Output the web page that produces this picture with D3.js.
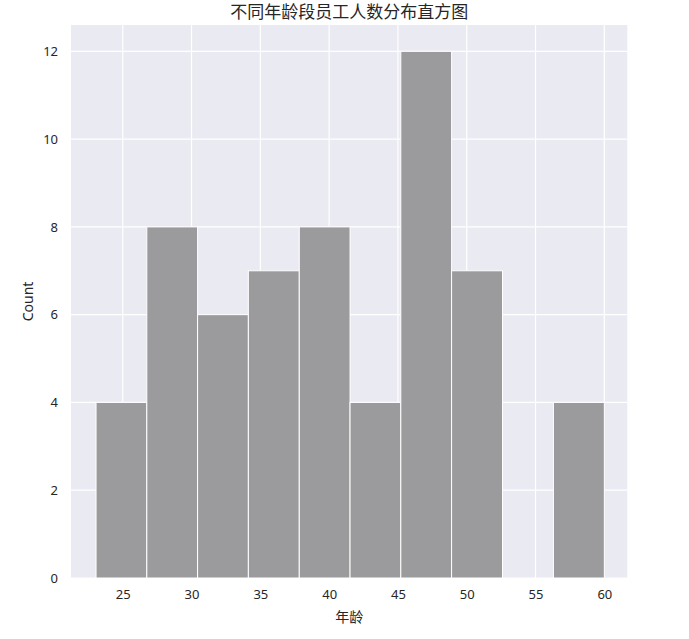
<!DOCTYPE html>
<html>
<head>
<meta charset="utf-8">
<script src="https://cdn.jsdelivr.net/npm/d3@7"></script>
<style>
  body { margin: 0; background: #fff; }
  text { font-family: "Noto Sans", "Noto Sans CJK SC", sans-serif; }
</style>
</head>
<body>
<div id="chart"></div>
<script>
// histogram bins (age) and counts
binEdges = [23.06, 26.75, 30.44, 34.13, 37.83, 41.52, 45.21, 48.9, 52.6, 56.3, 60]
counts = [4, 8, 6, 7, 8, 4, 12, 7, 0, 4]
xDomain = [21.24, 61.67]
xTicks = [25, 30, 35, 40, 45, 50, 55, 60]
yTicks = [0, 2, 4, 6, 8, 10, 12]
titleText = '不同年龄段员工人数分布直方图'
xLabel = '年龄'
yLabel = 'Count'

svgWidth = 689
svgHeight = 639

margin = { top: 25, left: 71, right: 61.7, bottom: 61 }

width = svgWidth - margin.left - margin.right
height = svgHeight - margin.top - margin.bottom

svg = d3.select('#chart')
        .append('svg')
        .attr('width', svgWidth)
        .attr('height', svgHeight)

chartGroup = svg.append('g')
                .attr('transform', `translate(${margin.left},${margin.top})`)

bins = counts.map((c, i) => ({ x0: binEdges[i], x1: binEdges[i + 1], count: c }))

xScale = d3.scaleLinear()
           .domain(xDomain)
           .range([0, width])
yScale = d3.scaleLinear()
           .domain([0, d3.max(counts) * 1.05])
           .range([height, 0])

chartGroup.append('rect')
          .attr('width', width)
          .attr('height', height)
          .attr('fill', '#eaeaf2')

// grid
chartGroup.selectAll('.vgrid')
          .data(xTicks)
          .enter()
          .append('line')
          .attr('x1', d => xScale(d)).attr('x2', d => xScale(d))
          .attr('y1', 0).attr('y2', height)
          .attr('stroke', '#fff').attr('stroke-width', 1.2)
chartGroup.selectAll('.hgrid')
          .data(yTicks)
          .enter()
          .append('line')
          .attr('y1', d => yScale(d)).attr('y2', d => yScale(d))
          .attr('x1', 0).attr('x2', width)
          .attr('stroke', '#fff').attr('stroke-width', 1.2)

chartGroup.selectAll('.bar')
          .data(bins)
          .enter()
          .append('rect')
          .attr('x', d => xScale(d.x0))
          .attr('y', d => yScale(d.count))
          .attr('width', d => xScale(d.x1) - xScale(d.x0))
          .attr('height', d => height - yScale(d.count))
          .attr('fill', '#9b9b9d')
          .attr('stroke', '#fff')
          .attr('stroke-width', d => d.count > 0 ? 1 : 0)

bottomAxis = d3.axisBottom(xScale).tickValues(xTicks).tickSize(0).tickPadding(12)
leftAxis = d3.axisLeft(yScale).tickValues(yTicks).tickSize(0).tickPadding(13)

gx = chartGroup.append('g')
               .attr('transform', `translate(0,${height})`)
               .call(bottomAxis)
gy = chartGroup.append('g')
               .call(leftAxis)
;[gx, gy].forEach(g => {
  g.select('.domain').remove()
  g.selectAll('text').attr('font-size', 13).attr('fill', '#262626')
   .attr('font-family', '"Noto Sans", sans-serif')
})

chartGroup.append('text')
          .attr('transform', 'rotate(-90)')
          .attr('x', -height / 2)
          .attr('y', -38)
          .attr('text-anchor', 'middle')
          .attr('font-size', 14)
          .attr('fill', '#262626')
          .text(yLabel)

chartGroup.append('text')
          .attr('x', width / 2)
          .attr('y', height + 44)
          .attr('text-anchor', 'middle')
          .attr('font-size', 14)
          .attr('fill', '#262626')
          .text(xLabel)

svg.append('text')
   .attr('x', margin.left + width / 2)
   .attr('y', 18)
   .attr('text-anchor', 'middle')
   .attr('font-size', 17)
   .attr('fill', '#262626')
   .text(titleText)
</script>
</body>
</html>
